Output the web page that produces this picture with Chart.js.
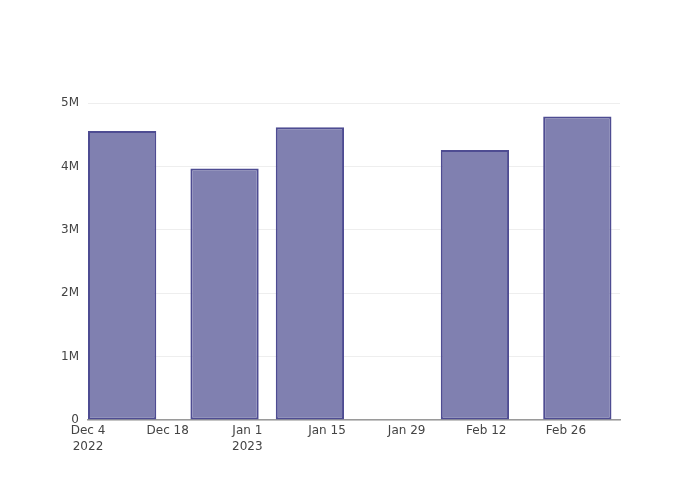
<!DOCTYPE html>
<html>
<head>
<meta charset="utf-8">
<script src="https://cdn.jsdelivr.net/npm/chart.js@4"></script>
<style>
  html, body { margin: 0; padding: 0; background: #fff; }
  #wrap { width: 700px; height: 500px; }
</style>
</head>
<body>
<div id="wrap"><canvas id="myBarGraph" width="700" height="500"></canvas></div>
<script>
// days counted from Dec 4 2022
var barDays = [6, 24, 39, 68, 86];           // Dec 10, Dec 28, Jan 12, Feb 10, Feb 28
var barValues = [4560000, 3970000, 4620000, 4260000, 4790000];
var tickDays = [0, 14, 28, 42, 56, 70, 84];
var tickLabels = [["Dec 4", "2022"], "Dec 18", ["Jan 1", "2023"], "Jan 15", "Jan 29", "Feb 12", "Feb 26"];
var yTicks = [0, 1000000, 2000000, 3000000, 4000000, 5000000];

var points = barDays.map(function (d, i) { return { x: d, y: barValues[i] }; });

var ctx = document.getElementById("myBarGraph").getContext("2d");

var myBarGraph = new Chart(ctx, {
  type: "bar",
  data: {
    datasets: [
      {
        data: points,
        backgroundColor: "rgb(128, 128, 176)",
        borderColor: "rgb(78, 76, 146)",
        borderWidth: 2,
        borderSkipped: false,
        barPercentage: 1,
        categoryPercentage: 12 / 14  // bars 12 days wide, tick spacing is 14 days
      }
    ]
  },
  options: {
    responsive: false,
    animation: false,
    layout: {
      padding: { left: 0, right: 80, top: 100, bottom: 0 }
    },
    plugins: {
      legend: { display: false },
      tooltip: { enabled: false }
    },
    scales: {
      x: {
        type: "linear",
        min: 0,
        max: 93.5,
        offset: false,
        afterBuildTicks: function (scale) {
          scale.ticks = tickDays.map(function (v) { return { value: v }; });
        },
        afterFit: function (scale) { scale.height = 80; },
        grid: { display: false, drawTicks: false },
        border: { display: true, color: "#9a9a9a", width: 1.5 },
        ticks: {
          padding: 3,
          maxRotation: 0,
          autoSkip: false,
          color: "#444444",
          font: { family: "DejaVu Sans", size: 12, lineHeight: 1.3 },
          callback: function (value) {
            var i = tickDays.indexOf(value);
            return i >= 0 ? tickLabels[i] : "";
          }
        }
      },
      y: {
        min: 0,
        max: 5050000,
        afterBuildTicks: function (scale) {
          scale.ticks = yTicks.map(function (v) { return { value: v }; });
        },
        afterFit: function (scale) { scale.width = 88; },
        grid: { color: "#eeeeee", drawTicks: false },
        border: { display: false },
        ticks: {
          padding: 9,
          color: "#444444",
          font: { family: "DejaVu Sans", size: 12 },
          callback: function (value) {
            return value === 0 ? "0" : (value / 1000000) + "M";
          }
        }
      }
    }
  }
});
</script>
</body>
</html>
